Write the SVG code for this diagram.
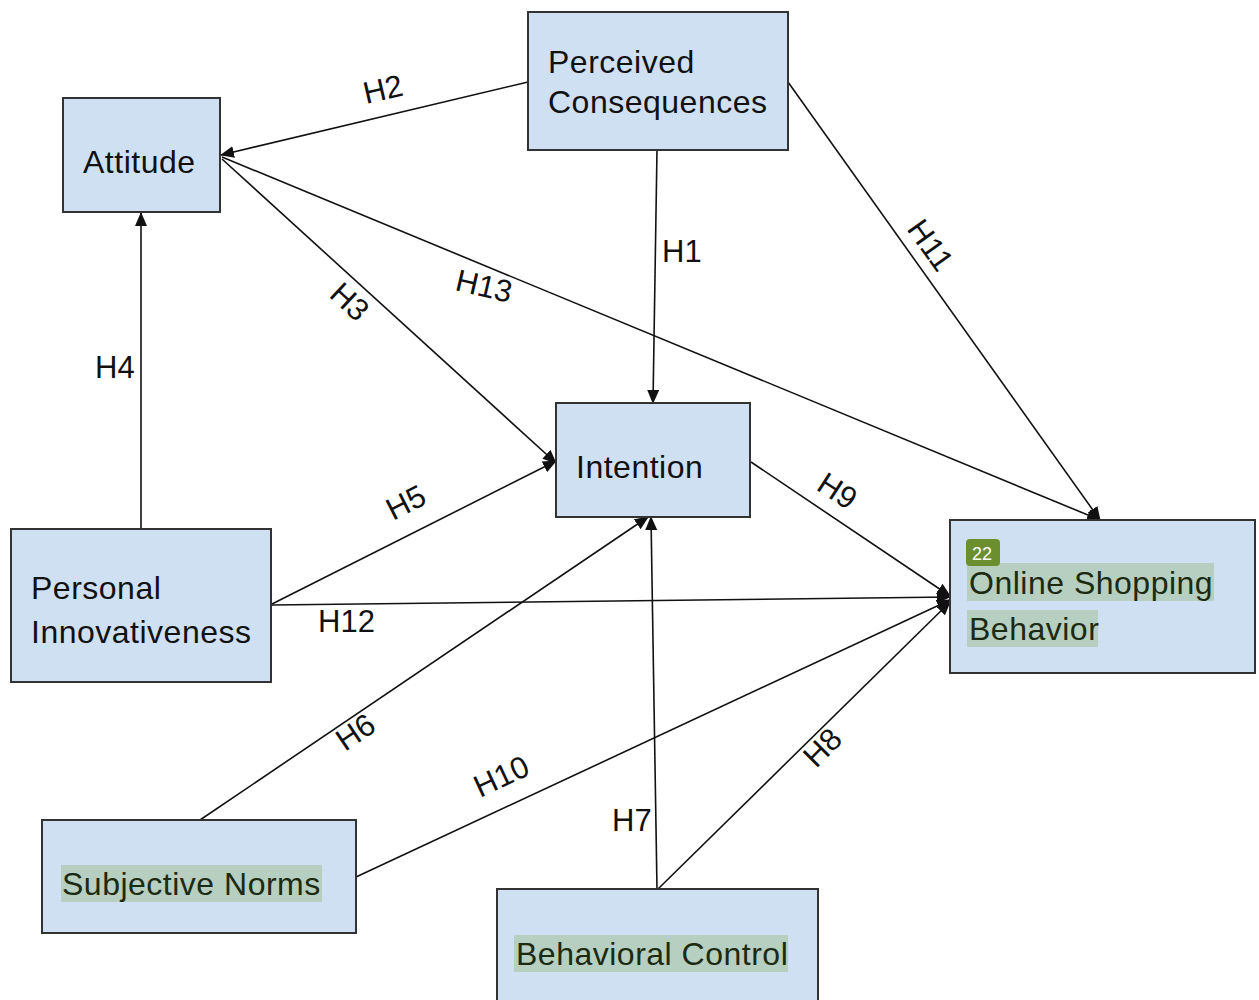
<svg xmlns="http://www.w3.org/2000/svg" width="1259" height="1000" viewBox="0 0 1259 1000">
  <style>
    .box { fill: #cfe0f3; stroke: #333; stroke-width: 2; }
    .txt { font-family: "Liberation Sans", Arial, sans-serif; font-size: 32px; letter-spacing: 0.5px; fill: #111; }
    .hl-txt { font-family: "Liberation Sans", Arial, sans-serif; font-size: 32px; letter-spacing: 0.5px; fill: #1c2a12; }
    .hl { fill: #b6cfc0; }
    .edge { stroke: #111; stroke-width: 1.6; fill: none; marker-end: url(#arrow); }
    .lbl { font-family: "Liberation Sans", Arial, sans-serif; font-size: 31px; fill: #111; }
    .badge { fill: #6b8f2f; }
    .badge-txt { font-family: "Liberation Sans", Arial, sans-serif; font-size: 18px; fill: #fff; }
  </style>
  <defs>
    <marker id="arrow" markerUnits="userSpaceOnUse" markerWidth="14" markerHeight="12" refX="13" refY="6" orient="auto">
      <path d="M0,0 L14,6 L0,12 z" fill="#111"/>
    </marker>
  </defs>
  <rect width="1259" height="1000" fill="#fff"/>

  <!-- connectors -->
  <g id="connectors">
    <line class="edge" x1="528" y1="82" x2="221" y2="155"/>
    <line class="edge" x1="657" y1="150" x2="653" y2="403"/>
    <line class="edge" x1="788" y1="82" x2="1100" y2="520"/>
    <line class="edge" x1="222" y1="157" x2="1100" y2="520"/>
    <line class="edge" x1="222" y1="159" x2="556" y2="463"/>
    <line class="edge" x1="141" y1="529" x2="141" y2="213"/>
    <line class="edge" x1="272" y1="604" x2="556" y2="461"/>
    <line class="edge" x1="272" y1="605" x2="950" y2="597"/>
    <line class="edge" x1="200" y1="820" x2="648" y2="517"/>
    <line class="edge" x1="356" y1="877" x2="950" y2="600"/>
    <line class="edge" x1="657" y1="889" x2="651" y2="517"/>
    <line class="edge" x1="658" y1="889" x2="950" y2="602"/>
    <line class="edge" x1="751" y1="462" x2="950" y2="596"/>

    <text class="lbl" transform="translate(366,104) rotate(-13)">H2</text>
    <text class="lbl" x="662" y="262">H1</text>
    <text class="lbl" transform="translate(906,229) rotate(54.5)">H11</text>
    <text class="lbl" transform="translate(454,290) rotate(13)">H13</text>
    <text class="lbl" transform="translate(328,296) rotate(43)">H3</text>
    <text class="lbl" x="95" y="378">H4</text>
    <text class="lbl" transform="translate(393,521) rotate(-27)">H5</text>
    <text class="lbl" x="318" y="632">H12</text>
    <text class="lbl" transform="translate(815,489) rotate(33)">H9</text>
    <text class="lbl" transform="translate(345,752) rotate(-34)">H6</text>
    <text class="lbl" transform="translate(480,798) rotate(-25)">H10</text>
    <text class="lbl" x="612" y="831">H7</text>
    <text class="lbl" transform="translate(816,769) rotate(-45)">H8</text>
  </g>

  <!-- nodes -->
  <g id="perceived-consequences">
    <rect class="box" x="528" y="12" width="260" height="138"/>
    <text class="txt" x="548" y="73">Perceived</text>
    <text class="txt" x="548" y="113">Consequences</text>
  </g>
  <g id="attitude">
    <rect class="box" x="63" y="98" width="157" height="114"/>
    <text class="txt" x="83" y="173">Attitude</text>
  </g>
  <g id="intention">
    <rect class="box" x="556" y="403" width="194" height="114"/>
    <text class="txt" x="576" y="478">Intention</text>
  </g>
  <g id="personal-innovativeness">
    <rect class="box" x="11" y="529" width="260" height="153"/>
    <text class="txt" x="31" y="599">Personal</text>
    <text class="txt" x="31" y="643">Innovativeness</text>
  </g>
  <g id="online-shopping-behavior">
    <rect class="box" x="950" y="520" width="305" height="153"/>
    <rect class="hl" x="967" y="563" width="247" height="38"/>
    <rect class="hl" x="967" y="610" width="131" height="37"/>
    <text class="hl-txt" x="969" y="594">Online Shopping</text>
    <text class="hl-txt" x="969" y="640">Behavior</text>
    <rect class="badge" x="966" y="539" width="34" height="27" rx="4"/>
    <text class="badge-txt" x="972" y="560">22</text>
  </g>
  <g id="subjective-norms">
    <rect class="box" x="42" y="820" width="314" height="113"/>
    <rect class="hl" x="61" y="865" width="261" height="37"/>
    <text class="hl-txt" x="62" y="895">Subjective Norms</text>
  </g>
  <g id="behavioral-control">
    <rect class="box" x="497" y="889" width="321" height="120"/>
    <rect class="hl" x="514" y="935" width="274" height="37"/>
    <text class="hl-txt" x="516" y="965">Behavioral Control</text>
  </g>
</svg>
